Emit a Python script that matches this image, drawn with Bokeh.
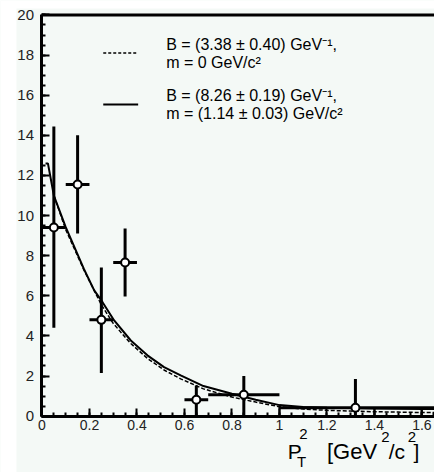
from bokeh.plotting import figure
from bokeh.models import (FixedTicker, CustomJSTickFormatter, Label, ColumnDataSource,
                          BoxAnnotation)
from bokeh.embed import file_html
from bokeh.resources import INLINE

# ---- data ----
pt2 = [0.05, 0.15, 0.25, 0.35, 0.65, 0.85, 1.32]
dndpt2 = [9.4, 11.55, 4.8, 7.66, 0.82, 1.07, 0.42]
bin_lo = [0.0, 0.1, 0.2, 0.3, 0.6, 0.7, 1.0]
bin_hi = [0.1, 0.2, 0.3, 0.4, 0.7, 1.0, 1.7]
err_lo = [4.4, 9.1, 2.15, 5.97, 0.0, 0.0, 0.0]
err_hi = [14.44, 14.0, 7.41, 9.36, 1.53, 2.0, 1.85]

fit_m_x = [0.015, 0.025, 0.05, 0.10, 0.176, 0.22, 0.255, 0.304, 0.374, 0.444,
           0.514, 0.584, 0.68, 0.8, 0.9, 1.0, 1.1, 1.2, 1.3, 1.4, 1.5, 1.6, 1.7]
fit_m_y = [12.6, 12.6, 11.0, 9.42, 7.35, 6.27, 5.68, 4.77, 3.77, 3.03,
           2.44, 2.03, 1.5, 1.12, 0.82, 0.55, 0.46, 0.42, 0.4, 0.38, 0.37, 0.36, 0.35]

fit_0_x = [0.05, 0.10, 0.176, 0.25, 0.30, 0.374, 0.444, 0.514, 0.584, 0.68,
           0.8, 0.9, 1.0, 1.1, 1.2, 1.3, 1.4, 1.5, 1.6, 1.7]
fit_0_y = [11.0, 9.3, 7.3, 5.55, 4.62, 3.62, 2.88, 2.3, 1.86, 1.36,
           0.95, 0.7, 0.47, 0.35, 0.29, 0.25, 0.22, 0.2, 0.18, 0.17]

tail_edges = [1.0, 1.4, 1.6]
tail_top = [0.5, 0.45, 0.45]

x_ticks = [0, 0.2, 0.4, 0.6, 0.8, 1.0, 1.2, 1.4, 1.6]
y_ticks = list(range(0, 21, 2))
X_MAX = 1.7
Y_MAX = 20

BG = "#f4f9f6"
FONT = "Liberation Sans"

p = figure(width=434, height=472, output_backend="svg", toolbar_location=None,
           x_range=(-0.1747, 1.653), y_range=(-2.81, 20.72),
           min_border_left=0, min_border_right=0, min_border_top=0, min_border_bottom=0)
p.background_fill_color = BG
p.border_fill_color = BG
p.outline_line_color = None
p.grid.visible = False

# white page strips (left and top) like the reference image
p.add_layout(BoxAnnotation(right=-0.1074, fill_color="white", fill_alpha=1.0,
                           line_color=None, level="underlay"))
p.add_layout(BoxAnnotation(bottom=20.32, fill_color="white", fill_alpha=1.0,
                           line_color=None, level="underlay"))

for ax in (p.xaxis[0], p.yaxis[0]):
    ax.fixed_location = 0
    ax.axis_line_width = 3
    ax.axis_line_color = "black"
    ax.major_tick_in = 8
    ax.major_tick_out = 0
    ax.minor_tick_in = 4
    ax.minor_tick_out = 0
    ax.major_tick_line_width = 2
    ax.minor_tick_line_width = 2
    ax.major_label_text_font = FONT
    ax.major_label_text_color = "#222222"

p.xaxis.major_label_text_font_size = "14px"
p.yaxis.major_label_text_font_size = "15px"
p.xaxis.bounds = (0, X_MAX)
p.yaxis.bounds = (0, Y_MAX)
p.xaxis.ticker = FixedTicker(ticks=x_ticks, minor_ticks=[i * 0.05 for i in range(0, 34)])
p.yaxis.ticker = FixedTicker(ticks=y_ticks, minor_ticks=[i * 0.5 for i in range(0, 41)])
p.xaxis.formatter = CustomJSTickFormatter(code="return tick.toFixed(1).replace(/\\.0$/, '');")
p.xaxis.major_label_standoff = 4
p.yaxis.major_label_standoff = 8

# top frame line
p.segment(x0=[0], y0=[Y_MAX], x1=[X_MAX], y1=[Y_MAX], line_color="black", line_width=3)

# fit curves
p.line(fit_0_x, fit_0_y, line_color="black", line_width=1.5, line_dash="4 2")
p.line(fit_m_x, fit_m_y, line_color="black", line_width=2)

# tail bin edges
p.segment(x0=tail_edges, y0=[0] * len(tail_edges), x1=tail_edges, y1=tail_top,
          line_color="black", line_width=2)

# error bars
src = ColumnDataSource(dict(x=pt2, y=dndpt2, xl=bin_lo, xh=bin_hi, yl=err_lo, yh=err_hi))
p.segment(x0="xl", y0="y", x1="xh", y1="y", source=src, line_color="black", line_width=3)
p.segment(x0="x", y0="yl", x1="x", y1="yh", source=src, line_color="black", line_width=3)
p.scatter("x", "y", source=src, size=8, fill_color="white", line_color="black", line_width=2)

# legend
p.line([0.258, 0.405], [18.1, 18.1], line_color="black", line_width=1.5, line_dash="3 2")
p.line([0.258, 0.405], [15.53, 15.53], line_color="black", line_width=2)

leg = [("B = (3.38 \u00b1 0.40) GeV\u207b\u00b9,", 18.54),
       ("m = 0 GeV/c\u00b2", 17.64),
       ("B = (8.26 \u00b1 0.19) GeV\u207b\u00b9,", 16.0),
       ("m = (1.14 \u00b1 0.03) GeV/c\u00b2", 15.1)]
for t, yy in leg:
    p.add_layout(Label(x=0.523, y=yy, text=t, text_font=FONT, text_font_size="16px",
                       text_baseline="middle", text_color="black"))

# x axis title: P_T^2 [GeV^2/c^2]
def lab(x, y, t, size):
    p.add_layout(Label(x=x, y=y, text=t, text_font=FONT, text_font_size=size,
                       text_baseline="middle", text_color="black"))

lab(1.035, -1.76, "P", "21px")
lab(1.074, -2.25, "T", "15px")
lab(1.083, -0.90, "2", "15px")
lab(1.200, -1.76, "[GeV", "22px")
lab(1.429, -1.05, "2", "15px")
lab(1.460, -1.76, "/c", "21px")
lab(1.540, -1.05, "2", "15px")
lab(1.565, -1.76, "]", "21px")

open("out.html", "w").write(file_html(p, INLINE))
